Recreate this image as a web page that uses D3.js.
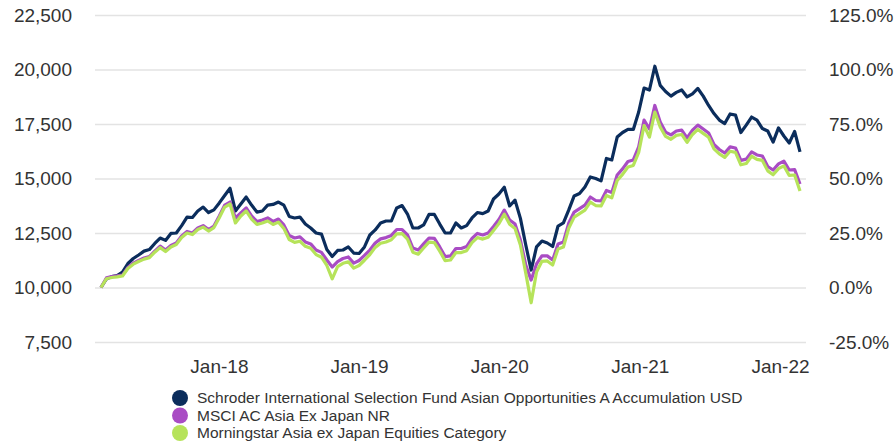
<!DOCTYPE html>
<html>
<head>
<meta charset="utf-8">
<script src="https://cdn.jsdelivr.net/npm/d3@7"></script>
<style>
  body { margin: 0; background: #fff; }
  svg { font-family: "Liberation Sans", Arial, sans-serif; }
</style>
</head>
<body>
<div id="chart"></div>
<script>
// growth of 10,000, fortnightly points from end of Feb 2017
const startDate = new Date(2017, 1, 28);

const fund = [10000,10390,10500,10550,10710,11100,11330,11490,11670,11740,
  12020,12270,12160,12480,12500,12840,13230,13210,13510,13690,
  13440,13560,13880,14220,14550,13510,13830,14150,13780,13460,
  13510,13780,13810,13920,13780,13260,13190,13230,12910,12730,
  12500,12450,11740,11420,11700,11720,11860,11580,11560,11860,
  12410,12640,12960,13050,13050,13650,13760,13370,12730,12730,
  12870,13350,13350,12910,12500,12500,12960,12730,12840,13190,
  13440,13390,13510,14060,14290,14600,13740,14010,13170,11950,
  10800,11860,12130,12040,11880,12820,12960,13560,14200,14310,
  14610,15070,15000,14890,15920,15850,16900,17110,17250,17250,
  18050,19150,19060,20150,19270,18990,18780,18950,19060,18740,
  18880,19130,18780,18350,17980,17680,17520,17960,17910,17110,
  17450,17820,17680,17290,17180,16670,17320,16950,16630,17160,
  16220];

const index = [10000,10440,10500,10530,10570,10920,11120,11240,11350,11420,
  11670,11900,11720,11930,12040,12360,12570,12500,12730,12840,
  12660,12820,13280,13780,13920,13190,13420,13650,13280,13030,
  13100,13190,13030,13140,12870,12390,12270,12320,12090,12000,
  11720,11610,11260,10940,11190,11330,11400,11120,11240,11470,
  11720,12040,12230,12290,12390,12660,12660,12410,11810,11720,
  12000,12270,12250,11860,11420,11450,11790,11790,11880,12250,
  12480,12410,12500,12800,13120,13550,13100,12910,12180,11030,
  10340,11080,11450,11450,11260,12000,12090,12960,13460,13620,
  13780,14150,13990,13970,14450,14360,15160,15440,15780,15850,
  16450,17680,17270,18350,17590,17130,17000,17180,17220,16860,
  17220,17450,17270,17090,16560,16330,16170,16450,16400,15830,
  15890,16220,16080,16030,15550,15390,15670,15800,15390,15410,
  14750];

const category = [10000,10400,10460,10490,10530,10870,11070,11190,11300,11370,
  11620,11830,11650,11860,11970,12290,12500,12430,12660,12770,
  12590,12750,13200,13690,13830,12960,13280,13510,13140,12890,
  12960,13050,12890,13000,12710,12200,12070,12120,11890,11800,
  11510,11390,11010,10400,10960,11110,11180,10890,11010,11250,
  11510,11840,12030,12090,12190,12460,12470,12220,11620,11530,
  11810,12080,12060,11670,11230,11260,11600,11600,11690,12060,
  12290,12220,12310,12610,12930,13360,12900,12710,11950,10660,
  9300,10710,11200,11220,11030,11770,11860,12730,13230,13390,
  13550,13920,13760,13740,14220,14110,14910,15190,15530,15600,
  16200,17430,16900,18050,17360,16930,16800,16980,17020,16660,
  17020,17250,17070,16890,16360,16130,15970,16250,16200,15630,
  15690,16020,15880,15830,15350,15170,15450,15580,15140,15160,
  14430];

const seriesNames = [
  'Schroder International Selection Fund Asian Opportunities A Accumulation USD',
  'MSCI AC Asia Ex Japan NR',
  'Morningstar Asia ex Japan Equities Category'
];
const seriesColors = ['#0b2d5c', '#a94cc4', '#b6e35a'];

const yTicks = [7500, 10000, 12500, 15000, 17500, 20000, 22500];
const pctTicks = [-0.25, 0, 0.25, 0.5, 0.75, 1.0, 1.25];
const xTickDates = [new Date(2018,0,1), new Date(2019,0,1), new Date(2020,0,1), new Date(2021,0,1), new Date(2022,0,1)];

const width = 896, height = 444;
const plotLeft = 95, plotRight = 806, plotTop = 15, plotBottom = 342;

const dates = d3.range(fund.length).map(i => d3.timeDay.offset(startDate, 14 * i));

const svg = d3.select('#chart')
    .append('svg')
    .attr('width', width)
    .attr('height', height);

let x = d3.scaleTime().domain([dates[0], dates[dates.length-1]]).range([101, 800]);
let y = d3.scaleLinear().domain([7500, 22500]).range([plotBottom, plotTop]);
let yPct = d3.scaleLinear().domain([-0.25, 1.25]).range([plotBottom, plotTop]);

const pctFormat = d => d3.format('.1%')(d).replace('\u2212', '-');

// grid + left labels
let yAxis = d3.axisLeft(y).tickValues(yTicks).tickFormat(d3.format(',')).tickSize(0).tickPadding(23);
let gridAxis = d3.axisLeft(y).tickValues(yTicks).tickSize(-(plotRight - plotLeft)).tickFormat('');

svg.append('g')
    .attr('transform', 'translate(' + plotLeft + ',0)')
    .call(gridAxis)
    .call(g => g.select('.domain').remove())
    .selectAll('line')
    .attr('stroke', '#e3e3e3')
    .attr('stroke-width', 1.5);

svg.append('g')
    .attr('transform', 'translate(' + plotLeft + ',0)')
    .call(yAxis)
    .call(g => g.select('.domain').remove())
    .selectAll('text')
    .style('font-size', '19px')
    .style('fill', '#333');

svg.append('g')
    .attr('transform', 'translate(' + plotRight + ',0)')
    .call(d3.axisRight(yPct).tickValues(pctTicks).tickFormat(pctFormat).tickSize(0).tickPadding(23))
    .call(g => g.select('.domain').remove())
    .selectAll('text')
    .style('font-size', '19px')
    .style('fill', '#333');

svg.append('g')
    .attr('transform', 'translate(0,' + plotBottom + ')')
    .call(d3.axisBottom(x).tickValues(xTickDates).tickFormat(d3.timeFormat('%b-%y')).tickSize(0).tickPadding(18))
    .call(g => g.select('.domain').remove())
    .selectAll('text')
    .style('font-size', '19px')
    .style('fill', '#333');

// lines
const line = d3.line()
    .x((d, i) => x(dates[i]))
    .y(d => y(d));

[fund, index, category].forEach((s, k) => {
    svg.append('path')
        .datum(s)
        .attr('d', line)
        .style('fill', 'none')
        .style('stroke', seriesColors[k])
        .style('stroke-width', 3.2)
        .style('stroke-linejoin', 'round');
});

// legend
const legend = svg.append('g').attr('transform', 'translate(180,398)');
seriesNames.forEach((name, k) => {
    legend.append('circle')
        .attr('cx', 0)
        .attr('cy', k * 17.5)
        .attr('r', 8)
        .style('fill', seriesColors[k]);
    legend.append('text')
        .attr('x', 17)
        .attr('y', k * 17.5)
        .attr('dy', '0.35em')
        .style('font-size', '15.5px')
        .style('fill', '#333')
        .text(name);
});
</script>
</body>
</html>
